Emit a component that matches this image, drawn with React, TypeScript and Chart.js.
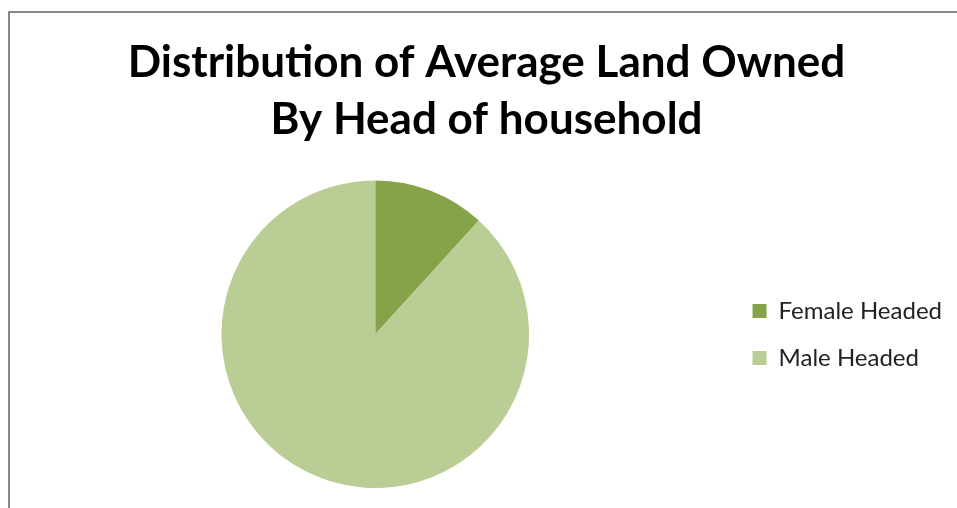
import React, { useEffect, useRef } from "react";
import { Chart, registerables } from "chart.js";

Chart.register(...registerables);

const categories = ["Female Headed", "Male Headed"];
const landOwned = [0.6, 4.5];
const sliceColors = ["#87A34A", "#B9CD95"];
const titleLines = ["Distribution of Average Land Owned", "By Head of household"];

export default function App() {
  const canvasRef = useRef<HTMLCanvasElement | null>(null);

  useEffect(() => {
    if (!canvasRef.current) return;
    const chart = new Chart(canvasRef.current, {
      type: "pie",
      data: {
        labels: categories,
        datasets: [
          {
            data: landOwned,
            backgroundColor: sliceColors,
            borderWidth: 0,
          },
        ],
      },
      options: {
        animation: false,
        responsive: false,
        maintainAspectRatio: false,
        layout: { padding: { left: 21, right: 5, top: 0, bottom: 20 } },
        plugins: {
          tooltip: { enabled: false },
          title: {
            display: true,
            text: titleLines,
            color: "#000000",
            font: { family: "Lato", size: 44, weight: "bold", lineHeight: 1.3 },
            padding: { top: 34, bottom: 32 },
          },
          legend: {
            display: true,
            position: "right",
            align: "center",
            // empty legend title used as a spacer so the entries sit beside the pie's centre
            title: {
              display: true,
              text: "",
              font: { size: 1, lineHeight: 1 },
              padding: { top: 180, bottom: 0 },
            },
            labels: {
              color: "#222222",
              boxWidth: 14,
              boxHeight: 14,
              padding: 23,
              font: { family: "Lato", size: 24 },
            },
          },
        },
      },
    });
    return () => chart.destroy();
  }, []);

  return (
    <div style={{ position: "absolute", left: 0, top: 0, width: 957, height: 508, background: "#fff" }}>
      <div
        style={{
          position: "absolute",
          left: 8,
          top: 11,
          width: 957,
          height: 508,
          borderLeft: "2px solid #888888",
          borderTop: "2px solid #888888",
        }}
      />
      <canvas ref={canvasRef} width={957} height={508} style={{ position: "absolute", left: 0, top: 0 }} />
    </div>
  );
}
